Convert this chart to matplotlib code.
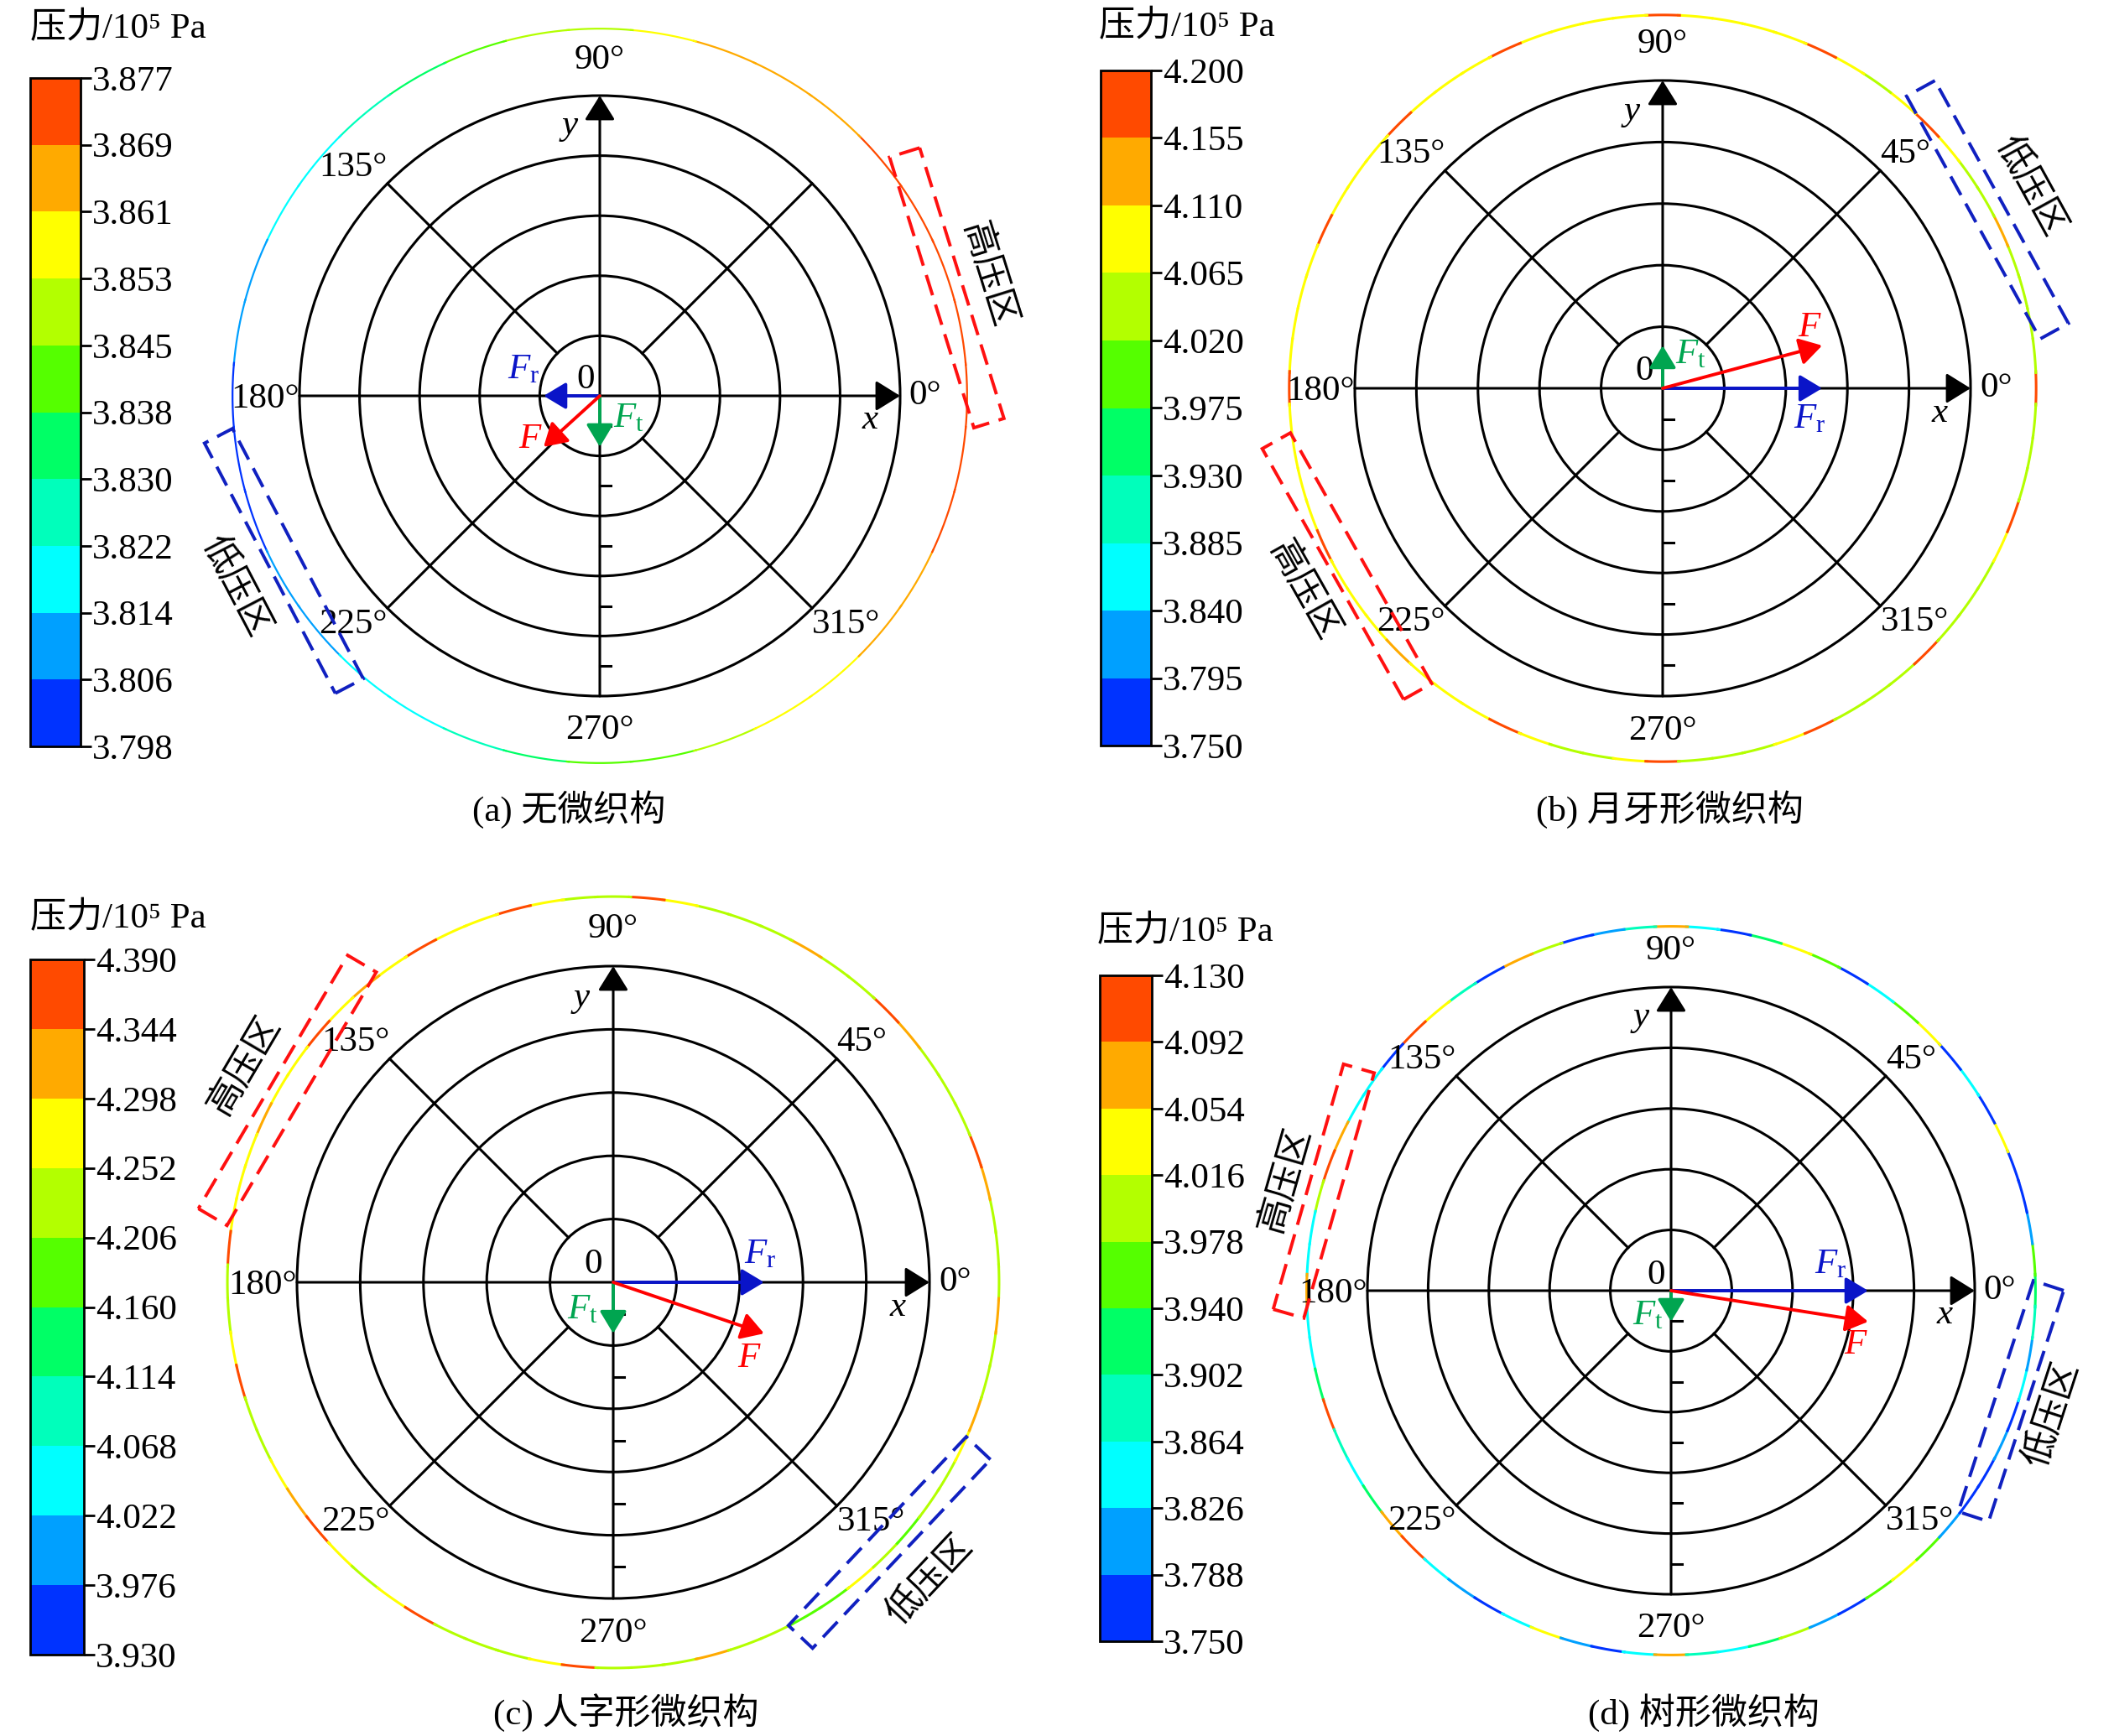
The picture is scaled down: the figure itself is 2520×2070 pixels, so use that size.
import numpy as np
import matplotlib
matplotlib.use("Agg")
import matplotlib.pyplot as plt
from matplotlib.colors import ListedColormap, BoundaryNorm
from matplotlib.collections import LineCollection
from matplotlib.patches import Polygon, Circle
from matplotlib.cm import ScalarMappable

plt.rcParams['font.family'] = ['Liberation Serif', 'Noto Sans CJK SC']
plt.rcParams['mathtext.fontset'] = 'custom'
plt.rcParams['mathtext.rm'] = 'Liberation Serif'
plt.rcParams['mathtext.it'] = 'Liberation Serif:italic'

W, H = 2520, 2070
FS = 31
LW = 2.2

# ten colour levels of the contour scale, low -> high
level_colors = ['#0033ff', '#00a0ff', '#00ffff', '#00ffbb', '#00ff66',
                '#55ff00', '#b3ff00', '#ffff00', '#ffaa00', '#ff4a00']

# colour bar boundaries (10^5 Pa)
levels_a = ['3.798', '3.806', '3.814', '3.822', '3.830', '3.838',
            '3.845', '3.853', '3.861', '3.869', '3.877']
levels_b = ['3.750', '3.795', '3.840', '3.885', '3.930', '3.975',
            '4.020', '4.065', '4.110', '4.155', '4.200']
levels_c = ['3.930', '3.976', '4.022', '4.068', '4.114', '4.160',
            '4.206', '4.252', '4.298', '4.344', '4.390']
levels_d = ['3.750', '3.788', '3.826', '3.864', '3.902', '3.940',
            '3.978', '4.016', '4.054', '4.092', '4.130']

# pressure along the bearing circumference (angle in degrees)
angles_a = list(range(0, 360, 10))
p_a = [3.873, 3.874, 3.874, 3.873, 3.871, 3.867, 3.865, 3.861, 3.857, 3.852,
       3.846, 3.840, 3.833, 3.826, 3.820, 3.815, 3.810, 3.806, 3.803, 3.802,
       3.803, 3.806, 3.810, 3.815, 3.820, 3.826, 3.832, 3.838, 3.844, 3.850,
       3.855, 3.860, 3.864, 3.868, 3.871, 3.873]

angles_5 = list(range(0, 360, 5))
p_b = [4.18, 4.04, 4.04, 4.04, 4.06, 4.13, 4.05, 4.04, 4.08, 4.17, 4.08, 4.04,
       4.07, 4.17, 4.09, 4.09, 4.07, 4.09, 4.18, 4.10, 4.09, 4.09, 4.08, 4.17,
       4.09, 4.08, 4.09, 4.17, 4.09, 4.08, 4.09, 4.16, 4.09, 4.08, 4.09, 4.08,
       4.17, 4.07, 4.08, 4.09, 4.09, 4.16, 4.09, 4.09, 4.08, 4.15, 4.09, 4.09,
       4.08, 4.17, 4.08, 4.06, 4.05, 4.08, 4.18, 4.06, 4.04, 4.05, 4.07, 4.17,
       4.05, 4.04, 4.06, 4.17, 4.05, 4.04, 4.05, 4.08, 4.17, 4.05, 4.04, 4.06]
p_c = [4.23, 4.25, 4.23, 4.30, 4.36, 4.24, 4.22, 4.23, 4.30, 4.36, 4.25, 4.23,
       4.33, 4.24, 4.22, 4.23, 4.26, 4.36, 4.24, 4.23, 4.28, 4.36, 4.26, 4.28,
       4.35, 4.27, 4.33, 4.27, 4.36, 4.28, 4.27, 4.34, 4.28, 4.26, 4.27, 4.36,
       4.25, 4.23, 4.26, 4.35, 4.25, 4.23, 4.26, 4.30, 4.37, 4.27, 4.24, 4.26,
       4.35, 4.25, 4.23, 4.24, 4.27, 4.36, 4.25, 4.23, 4.25, 4.33, 4.24, 4.22,
       4.20, 4.19, 4.28, 4.21, 4.19, 4.22, 4.24, 4.27, 4.34, 4.24, 4.22, 4.31]
p_d = [3.92, 3.96, 3.80, 3.78, 3.77, 4.03, 3.77, 3.84, 3.77, 4.03, 3.95, 3.84,
       3.77, 3.96, 4.03, 3.92, 3.78, 3.84, 4.07, 3.88, 3.80, 3.77, 3.99, 4.07,
       3.78, 3.88, 4.04, 4.11, 3.77, 3.84, 3.86, 4.07, 4.10, 4.00, 3.86, 3.84,
       4.09, 3.86, 3.84, 3.92, 4.10, 3.88, 3.84, 3.92, 4.07, 4.11, 3.85, 3.80,
       3.77, 3.84, 4.03, 3.80, 3.78, 3.86, 4.07, 3.88, 3.84, 3.92, 4.00, 3.80,
       3.77, 3.96, 4.03, 3.96, 3.80, 3.77, 3.78, 3.80, 3.77, 3.84, 3.80, 3.88]

# radial / tangential force components (fraction of plot radius)
fr = [-0.187, 0.518, 0.477, 0.649]
ft = [-0.170, 0.139, -0.162, -0.102]

captions = ['(a) 无微织构', '(b) 月牙形微织构', '(c) 人字形微织构', '(d) 树形微织构']

cmap = ListedColormap(level_colors)


def fig_rect(x0, y0, x1, y1):
    return [x0 / W, 1 - y1 / H, (x1 - x0) / W, (y1 - y0) / H]


def polar_xy(r, deg):
    t = np.radians(deg)
    return r * np.cos(t), r * np.sin(t)


def draw_ring(ax, angles, values, step, radius, lw, norm):
    segs = []
    for a in angles:
        t = np.radians(np.linspace(a - step / 2 - 0.3, a + step / 2 + 0.3, 10))
        segs.append(np.column_stack([radius * np.cos(t), radius * np.sin(t)]))
    lc = LineCollection(segs, cmap=cmap, norm=norm, linewidths=lw,
                        capstyle='butt', clip_on=False, zorder=2)
    lc.set_array(np.asarray(values))
    ax.add_collection(lc)


def dashed_box(ax, r, theta, length, text, tr, color):
    t = np.radians(theta)
    u = np.array([np.cos(t), np.sin(t)])
    v = np.array([-np.sin(t), np.cos(t)])
    c = r * u
    w = 0.105
    pts = [c + s1 * length / 2 * v + s2 * w / 2 * u
           for s1, s2 in [(1, 1), (1, -1), (-1, -1), (-1, 1)]]
    ax.add_patch(Polygon(pts, closed=True, fill=False, ec=color, lw=2.8,
                         ls=(0, (6.5, 3.0)), clip_on=False, zorder=4))
    rot = (theta - 90 + 90) % 180 - 90
    tx, ty = polar_xy(tr, theta)
    ax.text(tx, ty, text, rotation=rot, rotation_mode='anchor', ha='center',
            va='center', fontsize=FS)


def draw_panel(ax, k, angles, values, step, ring_r, ring_lw, norm, boxes, labels):
    # grid
    for i in range(1, 6):
        ax.add_patch(Circle((0, 0), i / 5, fill=False, ec='k', lw=LW, clip_on=False))
    for a in (45, 135, 225, 315):
        x0, y0 = polar_xy(0.2, a)
        x1, y1 = polar_xy(1.0, a)
        ax.plot([x0, x1], [y0, y1], color='k', lw=LW, clip_on=False)
    arr = dict(arrowstyle='-|>,head_length=0.45,head_width=0.28', color='k',
               lw=LW, mutation_scale=40, shrinkA=0, shrinkB=0)
    ax.annotate('', xy=(1, 0), xytext=(-1, 0), arrowprops=arr)
    ax.annotate('', xy=(0, 1), xytext=(0, -1), arrowprops=arr)
    for r in (0.1, 0.3, 0.5, 0.7, 0.9):
        ax.plot([0, 0.035], [-r, -r], color='k', lw=LW, clip_on=False)
    ax.text(0.9, -0.08, 'x', fontsize=FS, style='italic', ha='center', va='center')
    ax.text(-0.1, 0.9, 'y', fontsize=FS, style='italic', ha='center', va='center')

    # angle labels
    ax.text(0, 1.065, '90°', fontsize=FS, ha='center', va='bottom')
    ax.text(0, -1.06, '270°', fontsize=FS, ha='center', va='top')
    ax.text(1.03, 0, '0°', fontsize=FS, ha='left', va='center')
    ax.text(-1.0, -0.01, '180°', fontsize=FS, ha='right', va='center')
    c45 = np.cos(np.radians(45))
    if k != 0:
        ax.text(c45, c45, '45°', fontsize=FS, ha='left', va='bottom')
    ax.text(-c45, c45, '135°', fontsize=FS, ha='right', va='bottom')
    ax.text(-c45, -c45, '225°', fontsize=FS, ha='right', va='top')
    ax.text(c45, -c45, '315°', fontsize=FS, ha='left', va='top')

    # pressure ring
    draw_ring(ax, angles, values, step, ring_r, ring_lw, norm)

    # force vectors
    farr = dict(arrowstyle='-|>,head_length=0.45,head_width=0.27', lw=2.8,
                mutation_scale=36, shrinkA=0, shrinkB=0)
    ax.annotate('', xy=(fr[k], 0), xytext=(0, 0),
                arrowprops=dict(farr, color='#0a14c8'), zorder=6)
    ax.annotate('', xy=(0, ft[k]), xytext=(0, 0),
                arrowprops=dict(farr, color='#00a550'), zorder=6)
    ax.annotate('', xy=(fr[k], ft[k]), xytext=(0, 0),
                arrowprops=dict(farr, color='#ff0000'), zorder=7)
    lfr, lft, lf, l0 = labels
    ax.text(*lfr, r'$F_{\mathrm{r}}$', color='#0a14c8', fontsize=FS, ha='center', va='center')
    ax.text(*lft, r'$F_{\mathrm{t}}$', color='#00a550', fontsize=FS, ha='center', va='center')
    ax.text(*lf, r'$F$', color='#ff0000', fontsize=FS, ha='center', va='center')
    ax.text(*l0, '0', fontsize=FS, ha='center', va='center')

    for b in boxes:
        dashed_box(ax, *b)


fig = plt.figure(figsize=(W / 100, H / 100), dpi=100)

panels = [
    dict(center=(715, 472), R=358, cbar=(36, 93, 96, 890), clabel=(36, 34),
         cap=(678, 965), levels=levels_a, angles=angles_a, values=p_a, step=10,
         ring=1.223, ring_lw=1.6,
         boxes=[(1.21, 17.3, 0.944, '高压区', 1.35, '#ff1010'),
                (1.187, 207.6, 0.94, '低压区', 1.37, '#1020c0')],
         labels=[(-0.254, 0.087), (0.095, -0.075), (-0.23, -0.145), (-0.047, 0.053)]),
    dict(center=(1982, 463), R=367, cbar=(1312, 84, 1372, 889), clabel=(1310, 32),
         cap=(1990, 965), levels=levels_b, angles=angles_5, values=p_b, step=5,
         ring=1.213, ring_lw=2.2,
         boxes=[(1.204, 28.8, 0.90, '低压区', 1.36, '#1020c0'),
                (1.177, 209.4, 0.935, '高压区', 1.34, '#ff1010')],
         labels=[(0.477, -0.10), (0.09, 0.109), (0.477, 0.196), (-0.06, 0.054)]),
    dict(center=(731, 1529), R=377, cbar=(36, 1144, 100, 1973), clabel=(36, 1095),
         cap=(746, 2042), levels=levels_c, angles=angles_5, values=p_c, step=5,
         ring=1.22, ring_lw=2.2,
         boxes=[(1.196, 149.5, 0.93, '高压区', 1.35, '#ff1010'),
                (1.20, 316.7, 0.82, '低压区', 1.377, '#1020c0')],
         labels=[(0.464, 0.088), (-0.098, -0.088), (0.43, -0.241), (-0.064, 0.056)]),
    dict(center=(1992, 1539), R=362, cbar=(1311, 1163, 1373, 1957), clabel=(1308, 1111),
         cap=(2031, 2042), levels=levels_d, angles=angles_5, values=p_d, step=5,
         ring=1.20, ring_lw=2.2,
         boxes=[(1.19, 164, 0.84, '高压区', 1.32, '#ff1010'),
                (1.177, 342, 0.80, '低压区', 1.32, '#1020c0')],
         labels=[(0.525, 0.086), (-0.077, -0.083), (0.608, -0.18), (-0.05, 0.05)]),
]

for k, p in enumerate(panels):
    cx, cy = p['center']
    R = p['R']
    S = 1.45 * R
    ax = fig.add_axes(fig_rect(cx - S, cy - S, cx + S, cy + S))
    ax.set_xlim(-1.45, 1.45)
    ax.set_ylim(-1.45, 1.45)
    ax.axis('off')
    ax.patch.set_alpha(0)

    bounds = [float(s) for s in p['levels']]
    norm = BoundaryNorm(bounds, cmap.N)
    draw_panel(ax, k, p['angles'], p['values'], p['step'], p['ring'], p['ring_lw'],
               norm, p['boxes'], p['labels'])

    cax = fig.add_axes(fig_rect(*p['cbar']))
    cb = fig.colorbar(ScalarMappable(norm=norm, cmap=cmap), cax=cax,
                      ticks=bounds, spacing='uniform')
    cb.set_ticklabels(p['levels'])
    cb.ax.tick_params(labelsize=FS, length=9, width=2, pad=1, direction='out')
    cb.outline.set_linewidth(2)

    lx, ly = p['clabel']
    fig.text(lx / W, 1 - ly / H, '压力/10⁵ Pa', fontsize=FS, ha='left', va='center')
    capx, capy = p['cap']
    fig.text(capx / W, 1 - capy / H, captions[k], fontsize=FS, ha='center', va='center')

fig.savefig('out.png', dpi=100)
